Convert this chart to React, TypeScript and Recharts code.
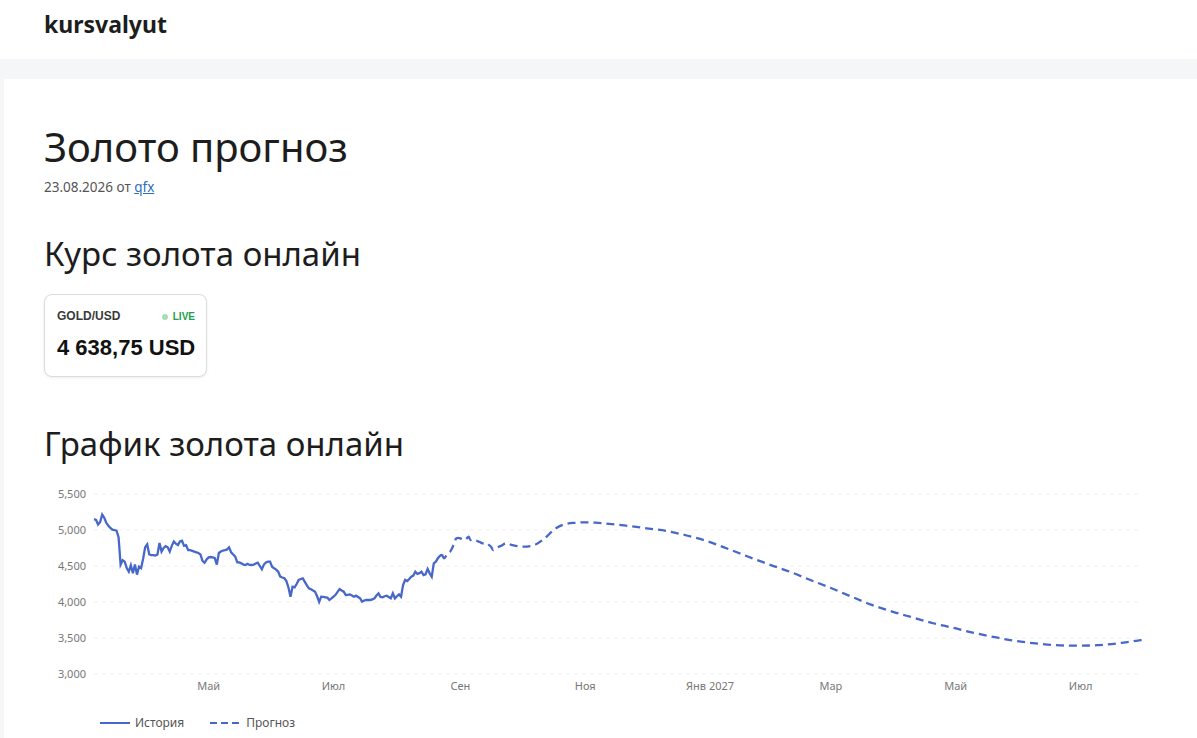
import { LineChart, Line, XAxis, YAxis, CartesianGrid } from 'recharts';

// daily closes from 2026-03-06 up to today (23.08.2026)
const historyStart = '2026-03-06';
const historyValues = [
  5150, 5140, 5075, 5110, 5215, 5170, 5100, 5060, 5030, 5005,
  5000, 4990, 4900, 4520, 4580, 4560, 4470, 4420, 4510, 4400,
  4520, 4380, 4490, 4470, 4600, 4760, 4800, 4660, 4650, 4650,
  4645, 4660, 4820, 4700, 4750, 4775, 4760, 4700, 4780, 4840,
  4810, 4790, 4840, 4850, 4780, 4790, 4720, 4720, 4710, 4700,
  4690, 4680, 4660, 4570, 4545, 4590, 4620, 4625, 4620, 4610,
  4520, 4680, 4700, 4715, 4720, 4730, 4760, 4690, 4660, 4630,
  4550, 4550, 4537, 4520, 4514, 4530, 4515, 4514, 4520, 4535,
  4545, 4500, 4454, 4520, 4550, 4560, 4560, 4490, 4468, 4450,
  4420, 4352, 4340, 4330, 4290, 4200, 4074, 4213, 4204, 4250,
  4306, 4320, 4329, 4280, 4230, 4190, 4176, 4160, 4143, 4080,
  4000, 4074, 4070, 4065, 4060, 4028, 4050, 4074, 4100, 4140,
  4180, 4160, 4143, 4097, 4100, 4106, 4090, 4074, 4088, 4070,
  4051, 4004, 4020, 4028, 4028, 4028, 4035, 4051, 4090, 4120,
  4070, 4065, 4080, 4088, 4070, 4051, 4120, 4051, 4080, 4106,
  4074, 4236, 4306, 4290, 4320, 4352, 4366, 4420, 4390, 4400,
  4420, 4375, 4385, 4460, 4398, 4352, 4537, 4560, 4607, 4640,
  4660,
];

const forecastDates = [
  '2026-08-23', '2026-08-24', '2026-08-25', '2026-08-26', '2026-08-27', '2026-08-28',
  '2026-08-29', '2026-08-30', '2026-08-31', '2026-09-01', '2026-09-02', '2026-09-03',
  '2026-09-04', '2026-09-05', '2026-09-06', '2026-09-07', '2026-09-08', '2026-09-09',
  '2026-09-10', '2026-09-11', '2026-09-12', '2026-09-13', '2026-09-14', '2026-09-15',
  '2026-09-16', '2026-09-17', '2026-09-18', '2026-09-19', '2026-09-20', '2026-09-21',
  '2026-09-22', '2026-09-23', '2026-09-27', '2026-10-02', '2026-10-07', '2026-10-12',
  '2026-10-17', '2026-10-22', '2026-10-27', '2026-11-01', '2026-11-06', '2026-11-11',
  '2026-11-21', '2026-12-01', '2026-12-11', '2026-12-21', '2026-12-31', '2027-01-10',
  '2027-01-20', '2027-01-30', '2027-02-09', '2027-02-19', '2027-03-01', '2027-03-11',
  '2027-03-21', '2027-03-31', '2027-04-10', '2027-04-20', '2027-04-30', '2027-05-10',
  '2027-05-20', '2027-05-30', '2027-06-09', '2027-06-19', '2027-06-29', '2027-07-09',
  '2027-07-19', '2027-07-29', '2027-07-31',
];
const forecastValues = [
  4660, 4607, 4640, 4680, 4700, 4750,
  4820, 4884, 4890, 4884, 4870, 4861,
  4880, 4907, 4861, 4870, 4861, 4850,
  4838, 4825, 4815, 4815, 4815, 4790,
  4768, 4722, 4740, 4754, 4770, 4782,
  4800, 4815, 4785, 4768, 4790, 4880,
  5010, 5080, 5100, 5107, 5102, 5090,
  5060, 5023, 4985, 4920, 4840, 4735,
  4625, 4520, 4420, 4305, 4195, 4075,
  3960, 3866, 3785, 3705, 3640, 3570,
  3512, 3460, 3425, 3400, 3393, 3400,
  3425, 3465, 3472,
];

const yTicks = [3000, 3500, 4000, 4500, 5000, 5500];
const xTickDates = ['2026-05-01', '2026-07-01', '2026-09-01', '2026-11-01', '2027-01-01', '2027-03-01', '2027-05-01', '2027-07-01'];
const xTickLabels = ['Май', 'Июл', 'Сен', 'Ноя', 'Янв 2027', 'Мар', 'Май', 'Июл'];
const domainDates = ['2026-03-06', '2027-07-31'];

const DAY = 86400000;
const ts = (s: string) => Date.parse(s + 'T00:00:00Z');

const buildData = () => {
  const rows = new Map<number, any>();
  const start = ts(historyStart);
  historyValues.forEach((v, i) => {
    const t = start + i * DAY;
    rows.set(t, { t, history: v });
  });
  forecastDates.forEach((d, i) => {
    const t = ts(d);
    const row = rows.get(t) || { t };
    row.forecast = forecastValues[i];
    rows.set(t, row);
  });
  return Array.from(rows.values()).sort((a, b) => a.t - b.t);
};

const data = buildData();
const xTicks = xTickDates.map(ts);
const BLUE = '#4767c9';
const FONT = '"Segoe UI", "Noto Sans", sans-serif';

export default function App() {
  return (
    <div style={{ position: 'absolute', left: 0, top: 0, width: 1197, height: 738, background: '#f5f6f8', overflow: 'hidden', fontFamily: FONT, color: '#222' }}>
      <div style={{ position: 'absolute', left: 0, top: 0, width: 1197, height: 59, background: '#fff' }}>
        <div style={{ position: 'absolute', left: 44, top: 13, fontSize: 23, fontWeight: 700, lineHeight: 1, color: '#1d1d1d' }}>
          kursvalyut
        </div>
      </div>
      <div style={{ position: 'absolute', left: 4, top: 79, width: 1193, height: 659, background: '#fff' }} />

      <div style={{ position: 'absolute', left: 44, top: 127, fontSize: 40, lineHeight: 1, color: '#1d1d1d' }}>
        Золото прогноз
      </div>
      <div style={{ position: 'absolute', left: 44, top: 181, fontSize: 13.5, lineHeight: 1, color: '#555' }}>
        23.08.2026 от <span style={{ color: '#2a6ebb', textDecoration: 'underline' }}>qfx</span>
      </div>
      <div style={{ position: 'absolute', left: 44, top: 237, fontSize: 33, lineHeight: 1, color: '#1d1d1d' }}>
        Курс золота онлайн
      </div>

      <div style={{ position: 'absolute', left: 44, top: 294, width: 161, height: 81, border: '1px solid #dcdcdc', borderRadius: 8, boxShadow: '0 1px 3px rgba(0,0,0,0.08)', fontFamily: '"Liberation Sans", Arial, sans-serif', background: '#fff' }}>
        <div style={{ position: 'absolute', left: 12, top: 15, fontSize: 12, fontWeight: 700, color: '#3a3a3a', lineHeight: 1 }}>GOLD/USD</div>
        <div style={{ position: 'absolute', right: 11, top: 17, fontSize: 10, fontWeight: 700, color: '#22a04b', lineHeight: 1, display: 'flex', alignItems: 'center' }}>
          <span style={{ display: 'inline-block', width: 6, height: 6, borderRadius: 3, background: '#a8dcb8', marginRight: 5 }} />
          LIVE
        </div>
        <div style={{ position: 'absolute', left: 12, top: 42, fontSize: 22, fontWeight: 700, color: '#111', lineHeight: 1 }}>4 638,75 USD</div>
      </div>

      <div style={{ position: 'absolute', left: 44, top: 427, fontSize: 33, lineHeight: 1, color: '#1d1d1d' }}>
        График золота онлайн
      </div>

      <div style={{ position: 'absolute', left: 40, top: 484 }}>
        <LineChart width={1110} height={220} data={data} margin={{ top: 10, right: 8, left: 0, bottom: 0 }}>
          <CartesianGrid vertical={false} strokeDasharray="4 4" stroke="#efefef" />
          <XAxis
            dataKey="t"
            type="number"
            scale="time"
            domain={domainDates.map(ts)}
            ticks={xTicks}
            tickFormatter={(v: number) => xTickLabels[xTicks.indexOf(v)] ?? ''}
            axisLine={false}
            tickLine={false}
            height={30}
            tick={{ fontSize: 11, fill: '#777', fontFamily: FONT }}
          />
          <YAxis
            domain={[3000, 5500]}
            ticks={yTicks}
            width={54}
            axisLine={false}
            tickLine={false}
            tickFormatter={(v: number) => v.toLocaleString('en-US')}
            tick={{ fontSize: 11, fill: '#777', fontFamily: FONT }}
          />
          <Line type="linear" dataKey="history" stroke={BLUE} strokeWidth={2.3} dot={false} connectNulls isAnimationActive={false} />
          <Line type="monotone" dataKey="forecast" stroke={BLUE} strokeWidth={2.3} strokeDasharray="8 5" dot={false} connectNulls isAnimationActive={false} />
        </LineChart>
      </div>

      <div style={{ position: 'absolute', left: 100, top: 715, display: 'flex', alignItems: 'center', fontSize: 12, color: '#555', lineHeight: '16px' }}>
        <svg width={30} height={4} style={{ marginRight: 5 }}>
          <line x1={0} y1={2} x2={30} y2={2} stroke={BLUE} strokeWidth={2} />
        </svg>
        <span style={{ marginRight: 26 }}>История</span>
        <svg width={31} height={4} style={{ marginRight: 5 }}>
          <line x1={0} y1={2} x2={31} y2={2} stroke={BLUE} strokeWidth={2} strokeDasharray="7 4" />
        </svg>
        <span>Прогноз</span>
      </div>
    </div>
  );
}
